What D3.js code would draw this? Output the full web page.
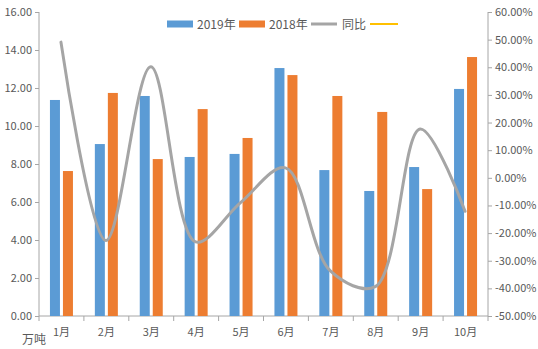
<!DOCTYPE html>
<html><head><meta charset="utf-8">
<script src="https://cdn.jsdelivr.net/npm/d3@7"></script>
<style>
html,body{margin:0;padding:0;background:#fff;}
svg text{font-family:"Noto Sans CJK SC","Noto Sans",sans-serif;fill:#595959;}
</style></head>
<body><svg id="c" width="538" height="349"></svg>
<script>
const categories = ["1月","2月","3月","4月","5月","6月","7月","8月","9月","10月"];
const values2019 = [11.37, 9.05, 11.58, 8.37, 8.53, 13.05, 7.68, 6.58, 7.84, 11.95];
const values2018 = [7.63, 11.74, 8.26, 10.89, 9.37, 12.68, 11.58, 10.74, 6.68, 13.63];
const yoy = [49.1, -22.7, 40.2, -23.2, -9.0, 3.6, -33.7, -39.4, 17.7, -12.1];
const leftTicks = [0,2,4,6,8,10,12,14,16];
const rightTicks = [-50,-40,-30,-20,-10,0,10,20,30,40,50,60];
const legendNames = ["2019年","2018年","同比",""];

const svg = d3.select("#c");
const L = 39, R = 488, T = 12, B = 316;
const axisColor = "#A6A6A6";

const x = d3.scaleBand().domain(categories).range([L, R]).padding(0);
const yL = d3.scaleLinear().domain([0,16]).range([B, T]);
const yR = d3.scaleLinear().domain([-50,60]).range([B, T]);

const gL = svg.append("g").attr("transform",`translate(${L},0)`)
  .call(d3.axisLeft(yL).tickValues(leftTicks).tickFormat(d3.format(".2f")).tickSize(4).tickPadding(3));
const gR = svg.append("g").attr("transform",`translate(${R},0)`)
  .call(d3.axisRight(yR).tickValues(rightTicks).tickFormat(d=>d.toFixed(2)+"%").tickSize(4).tickPadding(3));
[gL,gR].forEach(g=>{
  g.select(".domain").attr("stroke",axisColor).attr("d",`M0,${T}V${B}`);
  g.selectAll(".tick line").attr("stroke",axisColor);
  g.selectAll(".tick text").attr("font-size",11).style("fill","#595959");
});

const gB = svg.append("g").attr("transform",`translate(0,${B})`);
gB.append("line").attr("x1",L).attr("x2",R).attr("y1",0).attr("y2",0).attr("stroke",axisColor);
const bounds = categories.map(c=>x(c)).concat([R]);
gB.selectAll("line.tk").data(bounds).join("line").attr("class","tk")
  .attr("x1",d=>d).attr("x2",d=>d).attr("y1",0).attr("y2",5).attr("stroke",axisColor);
gB.selectAll("text").data(categories).join("text")
  .attr("x",d=>x(d)+x.bandwidth()/2).attr("y",20).attr("text-anchor","middle")
  .attr("font-size",11).text(d=>d);

svg.append("text").attr("x",22).attr("y",344).attr("font-size",12).text("万吨");

const bw = 10, gap = 1.5;
svg.append("g").selectAll("rect").data(values2019).join("rect")
  .attr("x",(d,i)=>x(categories[i])+x.bandwidth()/2-gap-bw)
  .attr("y",d=>yL(d)).attr("width",bw).attr("height",d=>B-yL(d)).attr("fill","#5B9BD5");
svg.append("g").selectAll("rect").data(values2018).join("rect")
  .attr("x",(d,i)=>x(categories[i])+x.bandwidth()/2+gap)
  .attr("y",d=>yL(d)).attr("width",bw).attr("height",d=>B-yL(d)).attr("fill","#ED7D31");

const line = d3.line().x((d,i)=>x(categories[i])+x.bandwidth()/2-0.5).y(d=>yR(d)).curve(d3.curveCatmullRom.alpha(0.5));
svg.append("path").datum(yoy).attr("d",line).attr("fill","none")
  .attr("stroke","#A5A5A5").attr("stroke-width",3).attr("stroke-linecap","round");

const lg = svg.append("g");
const ly = 24;
lg.append("rect").attr("x",167).attr("y",ly-3.5).attr("width",26).attr("height",7).attr("fill","#5B9BD5");
lg.append("text").attr("x",197).attr("y",ly+4.5).attr("font-size",12).text(legendNames[0]);
lg.append("rect").attr("x",239).attr("y",ly-3.5).attr("width",26).attr("height",7).attr("fill","#ED7D31");
lg.append("text").attr("x",269).attr("y",ly+4.5).attr("font-size",12).text(legendNames[1]);
lg.append("line").attr("x1",311).attr("x2",337).attr("y1",ly).attr("y2",ly).attr("stroke","#A5A5A5").attr("stroke-width",3);
lg.append("text").attr("x",342).attr("y",ly+4.5).attr("font-size",12).text(legendNames[2]);
lg.append("line").attr("x1",370).attr("x2",398).attr("y1",ly).attr("y2",ly).attr("stroke","#FFC000").attr("stroke-width",2);
</script></body></html>
